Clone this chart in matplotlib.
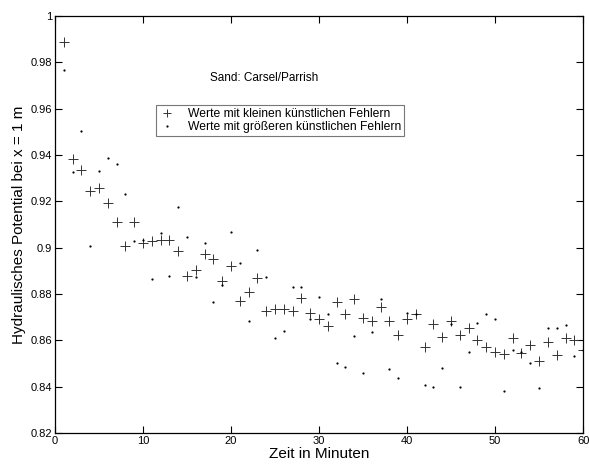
import matplotlib
matplotlib.use("Agg")
import matplotlib.pyplot as plt

plt.rcParams["font.family"] = ["Liberation Sans", "DejaVu Sans"]

# Zeit in Minuten (1..60)
minuten = list(range(1, 61))

# Werte mit kleinen künstlichen Fehlern (+)
kleine_fehler = [
    0.9888, 0.9382, 0.9335, 0.9244, 0.9256, 0.9194, 0.9109, 0.9008, 0.9109, 0.9021,
    0.9028, 0.9032, 0.9035, 0.8986, 0.8877, 0.8903, 0.8971, 0.8953, 0.8857, 0.8920,
    0.8770, 0.8808, 0.8867, 0.8727, 0.8737, 0.8737, 0.8727, 0.8783, 0.8720, 0.8690,
    0.8660, 0.8766, 0.8713, 0.8780, 0.8697, 0.8682, 0.8742, 0.8682, 0.8625, 0.8690,
    0.8713, 0.8571, 0.8672, 0.8615, 0.8682, 0.8625, 0.8651, 0.8600, 0.8569, 0.8550,
    0.8543, 0.8612, 0.8546, 0.8579, 0.8511, 0.8593, 0.8535, 0.8608, 0.8600, 0.8557,
]

# Werte mit größeren künstlichen Fehlern (.)
grosse_fehler = [
    0.9765, 0.9327, 0.9505, 0.9008, 0.9329, 0.9388, 0.9359, 0.9230, 0.9028, 0.9031,
    0.8865, 0.9061, 0.8878, 0.9174, 0.9047, 0.8872, 0.9021, 0.8766, 0.8838, 0.9068,
    0.8934, 0.8685, 0.8988, 0.8873, 0.8612, 0.8639, 0.8828, 0.8831, 0.8691, 0.8785,
    0.8714, 0.8500, 0.8483, 0.8618, 0.8459, 0.8636, 0.8777, 0.8475, 0.8438, 0.8718,
    0.8713, 0.8406, 0.8399, 0.8481, 0.8672, 0.8399, 0.8550, 0.8675, 0.8713, 0.8691,
    0.8381, 0.8560, 0.8550, 0.8500, 0.8394, 0.8651, 0.8655, 0.8665, 0.8533, 0.8560,
]

x_ticks = [0, 10, 20, 30, 40, 50, 60]
y_ticks = [0.82, 0.84, 0.86, 0.88, 0.9, 0.92, 0.94, 0.96, 0.98, 1]
y_ticklabels = ["0.82", "0.84", "0.86", "0.88", "0.9", "0.92", "0.94", "0.96", "0.98", "1"]

fig = plt.figure(figsize=(5.89, 4.69), dpi=100)
ax = fig.add_axes([0.0934, 0.0768, 0.8966, 0.8892])

ax.plot(minuten, kleine_fehler, linestyle="none", marker="+", markersize=6.5,
        markeredgewidth=0.7, color="#333333", label="Werte mit kleinen künstlichen Fehlern")
ax.plot(minuten, grosse_fehler, linestyle="none", marker="o", markersize=1.6,
        markeredgewidth=0, color="black", label="Werte mit größeren künstlichen Fehlern")

ax.set_xlim(0, 60)
ax.set_ylim(0.82, 1)
ax.set_xticks(x_ticks)
ax.set_yticks(y_ticks)
ax.set_yticklabels(y_ticklabels)
ax.tick_params(direction="in", length=5, width=0.8, top=True, right=True,
               labelsize=8, pad=2)
for s in ax.spines.values():
    s.set_linewidth(0.9)

ax.set_xlabel("Zeit in Minuten", fontsize=11, labelpad=1)
ax.set_ylabel("Hydraulisches Potential bei x = 1 m", fontsize=11, labelpad=3)

ax.text(0.2936, 0.851, "Sand: Carsel/Parrish", transform=ax.transAxes,
        fontsize=8.5, va="center", ha="left")

leg = ax.legend(loc="upper left", bbox_to_anchor=(0.191, 0.787), borderaxespad=0,
                fontsize=8.7, fancybox=False, framealpha=1, edgecolor="#777777",
                handlelength=1.4, handletextpad=1.0, borderpad=0.25,
                labelspacing=0.1)
leg.get_frame().set_linewidth(0.8)
# kleineres + in der Legende, Punkt bleibt sichtbar
leg.legend_handles[0].set_markersize(5.5)

fig.savefig("out.png", dpi=100)
